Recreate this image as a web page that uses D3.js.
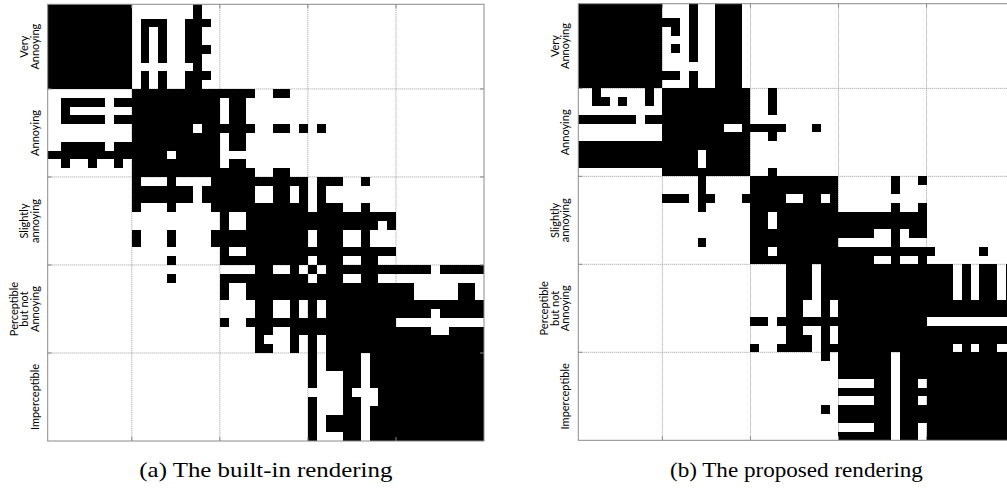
<!DOCTYPE html>
<html>
<head>
<meta charset="utf-8">
<style>
  body { margin: 0; background: #fff; }
  .frame { fill: none; stroke: #8a8a8a; stroke-width: 1px; }
  .grid { stroke: #9a9a9a; stroke-width: 1px; stroke-dasharray: 1,1; }
  .tick { stroke: #8a8a8a; stroke-width: 1px; }
  .cell { fill: #000; shape-rendering: crispEdges; }
  .ylab { font-family: Lato, sans-serif; font-size: 11px; fill: #000; }
  .caption { font-family: "Liberation Serif", serif; font-size: 21px; fill: #000; }
</style>
</head>
<body>
<svg id="chart"></svg>
<script src="https://d3js.org/d3.v7.min.js"></script>
<script>
  // rating categories, top to bottom (10 stimuli each)
  var categories = [
    ['Very', 'Annoying'],
    ['Annoying'],
    ['Slightly', 'annoying'],
    ['Perceptible', 'but not', 'Annoying'],
    ['Imperceptible']
  ];
  var captions = ['(a) The built-in rendering', '(b) The proposed rendering'];
  var gridTicks = [10, 20, 30, 40];

  // 50x50 binary matrices, '#' = black cell, blocks of 10 columns
  var builtinRows = [
    '########## .......#.. .......... .......... ..........',
    '########## .......#.. .......... .......... ..........',
    '########## .###..###. .......... .......... ..........',
    '########## .#.#..##.. .......... .......... ..........',
    '########## .#.#..##.. .......... .......... ..........',
    '########## .#.#..###. .......... .......... ..........',
    '########## .#.#..##.. .......... .......... ..........',
    '########## .......#.. .......... .......... ..........',
    '########## .#.#..###. .......... .......... ..........',
    '########## .#.#..##.. .......... .......... ..........',
    '.......... ########## ####..##.. .......... ..........',
    '..#####.## ########## .##....... .......... ..........',
    '..#....... ########## .##....... .......... ..........',
    '..#####.## ########## .##....... .......... ..........',
    '.......... #######.## ####..##.# .#........ ..........',
    '.......... ########## .##....... .......... ..........',
    '..#####.## ########## .##....... .......... ..........',
    '########## ####.##### .......... .......... ..........',
    '..#..#..#. ########## .##....... .......... ..........',
    '.......... ########## ####..##.. .......... ..........',
    '.......... #...#....# ########## .###..#... ..........',
    '.......... #######.## ####..##.# .#........ ..........',
    '.......... #######.## ####..##.# .#........ ..........',
    '.......... #...#....# ########## .###..#... ..........',
    '.......... .......... #..####### ########## ..........',
    '.......... .......... #..####### ########.# ..........',
    '.......... #...#....# ########## .###..#... ..........',
    '.......... #...#....# ########## .###..#... ..........',
    '.......... .......... #..####### ########## ..........',
    '.......... ....#..... ########## .###..##.. ..........',
    '.......... .......... ....##..#. #.######## ####.#####',
    '.......... ....#..... ########## .###..##.. ..........',
    '.......... .......... #..####### ########## ##.....##.',
    '.......... .......... #..####### ########## ##.....##.',
    '.......... .......... ....##..#. #.######## ##########',
    '.......... .......... ....##..#. #.######## ####.#####',
    '.......... .......... #..####### ########## ..........',
    '.......... .......... ....##..## ########## ####..####',
    '.......... .......... ....#...#. #.######## ##########',
    '.......... .......... ....##..#. #.######## ##########',
    '.......... .......... .......... #.####.### ##########',
    '.......... .......... .......... #.####.### ##########',
    '.......... .......... .......... #...##.### ##########',
    '.......... .......... .......... #...##.### ##########',
    '.......... .......... .......... ....#...## ##########',
    '.......... .......... .......... #...##..## ##########',
    '.......... .......... .......... #...##.### ##########',
    '.......... .......... .......... #.####.### ##########',
    '.......... .......... .......... #.####.### ##########',
    '.......... .......... .......... #...##.### ##########'
  ];

  var proposedRows = [
    '########## ...#..###. .......... .......... ..........',
    '########## ...#..###. .......... .......... ..........',
    '########## ##.#..###. .......... .......... ..........',
    '########## .#.#..###. .......... .......... ..........',
    '########## ...#..###. .......... .......... ..........',
    '########## .#.#..###. .......... .......... ..........',
    '########## ...#..###. .......... .......... ..........',
    '########## ......###. .......... .......... ..........',
    '########## ##.#..###. .......... .......... ..........',
    '########## ...#..###. .......... .......... ..........',
    '..#.....#. ########## ..#....... .......... ..........',
    '..##.#..#. ########## ..#....... .......... ..........',
    '.......... ########## ..#....... .......... ..........',
    '#######.## ########## .......... .......... ..........',
    '.......... #######..# ####...#.. .......... ..........',
    '.......... ########## ..#....... .......... ..........',
    '########## ########## .......... .......... ..........',
    '########## ####.##### .......... .......... ..........',
    '########## ####.##### .......... .......... ..........',
    '.......... ########## ..#....... .......... ..........',
    '.......... ....#..... ########## ......#..# ..........',
    '.......... ....#..... ########## ......#... ..........',
    '.......... ###.##...# ####..##.# .......... ..........',
    '.......... ....#..... ########## ......#..# ..........',
    '.......... .......... ##.####### ########## ..........',
    '.......... .......... ##.####### ########## ..........',
    '.......... .......... ########## ####..#.## ..........',
    '.......... ....#..... ########## ......#... ..........',
    '.......... .......... ##.####### ########## #.....#...',
    '.......... .......... ########## ####..#..# ..........',
    '.......... .......... ....###.## ########## ###.#.##.#',
    '.......... .......... ....###.## ########## ###.#.##.#',
    '.......... .......... ....###.## ########## ###.#.##.#',
    '.......... .......... ....###.## ########## ###.#.##.#',
    '.......... .......... ....##..#. ########## ##########',
    '.......... .......... ....##..#. ########## ##########',
    '.......... .......... ##.####### ########## ..........',
    '.......... .......... ....##..#. ########## ##########',
    '.......... .......... ....###.#. ########## ##########',
    '.......... .......... #..####.## ########## ###.#.##..',
    '.......... .......... ........#. ######.### ##########',
    '.......... .......... .......... ######.### ##########',
    '.......... .......... .......... ######.### ##########',
    '.......... .......... .......... ....##.##. ##########',
    '.......... .......... .......... ######.### ##########',
    '.......... .......... .......... ....##.##. ##########',
    '.......... .......... ........#. ######.### ##########',
    '.......... .......... .......... ######.### ##########',
    '.......... .......... .......... ....##.##. ##########',
    '.......... .......... .......... ######.##. ##########'
  ];

  var width = 1007, height = 493;
  var svg = d3.select('#chart').attr('width', width).attr('height', height);

  var panels = [
    { rows: builtinRows, caption: captions[0], left: 47.7, right: 484, top: 4.3, bottom: 441 },
    { rows: proposedRows, caption: captions[1], left: 578.3, right: 1014.6, top: 3.7, bottom: 440.3 }
  ];

  panels.forEach(function(p, i) {
    var n = p.rows.length;
    var x = d3.scaleLinear().domain([0.45, n]).range([p.left, p.right]);
    var y = d3.scaleLinear().domain([0.38, n]).range([p.top, p.bottom]);
    var g = svg.append('g');

    g.append('clipPath').attr('id', 'clip' + i)
      .append('rect')
      .attr('x', p.left).attr('y', p.top)
      .attr('width', p.right - p.left).attr('height', p.bottom - p.top);

    // dotted grid under the cells
    g.selectAll('.gx').data(gridTicks).enter().append('line')
      .attr('class', 'grid')
      .attr('x1', function(d) { return x(d); }).attr('x2', function(d) { return x(d); })
      .attr('y1', p.top).attr('y2', p.bottom);
    g.selectAll('.gy').data(gridTicks).enter().append('line')
      .attr('class', 'grid')
      .attr('y1', function(d) { return y(d); }).attr('y2', function(d) { return y(d); })
      .attr('x1', p.left).attr('x2', p.right);

    // matrix: symmetric, so a cell is black if either (r,c) or (c,r) is marked
    var m = p.rows.map(function(s) { return s.replace(/ /g, ''); });
    function black(r, c) { return m[r][c] === '#' || m[c][r] === '#'; }
    var runs = [];
    for (var r = 0; r < n; r++) {
      var c = 0;
      while (c < n) {
        if (black(r, c)) {
          var c0 = c;
          while (c < n && black(r, c)) c++;
          runs.push({ r: r, c0: c0, c1: c });
        } else c++;
      }
    }
    g.append('g').attr('clip-path', 'url(#clip' + i + ')')
      .selectAll('rect').data(runs).enter().append('rect')
      .attr('class', 'cell')
      .attr('x', function(d) { return x(d.c0); })
      .attr('y', function(d) { return y(d.r); })
      .attr('width', function(d) { return x(d.c1) - x(d.c0); })
      .attr('height', function(d) { return y(d.r + 1) - y(d.r); });

    // frame and small inward ticks on all four sides
    g.append('rect').attr('class', 'frame')
      .attr('x', p.left).attr('y', p.top)
      .attr('width', p.right - p.left).attr('height', p.bottom - p.top);
    gridTicks.forEach(function(t) {
      g.append('line').attr('class', 'tick')
        .attr('x1', x(t)).attr('x2', x(t)).attr('y1', p.bottom).attr('y2', p.bottom - 4);
      g.append('line').attr('class', 'tick')
        .attr('x1', x(t)).attr('x2', x(t)).attr('y1', p.top).attr('y2', p.top + 4);
      g.append('line').attr('class', 'tick')
        .attr('x1', p.left).attr('x2', p.left + 4).attr('y1', y(t)).attr('y2', y(t));
      g.append('line').attr('class', 'tick')
        .attr('x1', p.right).attr('x2', p.right - 4).attr('y1', y(t)).attr('y2', y(t));
    });

    // rotated category labels
    categories.forEach(function(lines, k) {
      var cy = (y(Math.max(k * 10, 0.38)) + y(k * 10 + 10)) / 2;
      var lg = g.append('g')
        .attr('transform', 'translate(' + (p.left - 9) + ',' + cy + ') rotate(-90)');
      lines.forEach(function(t, j) {
        lg.append('text').attr('class', 'ylab')
          .attr('text-anchor', 'middle')
          .attr('x', 0)
          .attr('y', -(lines.length - 1 - j) * 10.5)
          .text(t);
      });
    });

    svg.append('text').attr('class', 'caption')
      .attr('x', (p.left + p.right) / 2)
      .attr('y', 477)
      .attr('text-anchor', 'middle')
      .attr('textLength', 253)
      .attr('lengthAdjust', 'spacingAndGlyphs')
      .text(p.caption);
  });
</script>
</body>
</html>
